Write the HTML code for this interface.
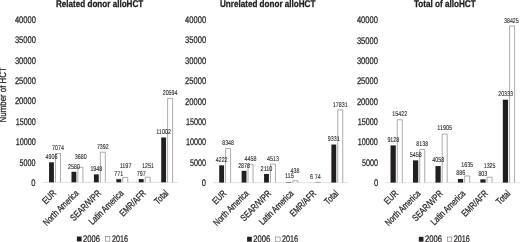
<!DOCTYPE html>
<html lang="en"><head><meta charset="utf-8"><title>alloHCT by region, 2006 vs 2016</title>
<style>html,body{margin:0;padding:0;background:#fff}body{width:520px;height:242px;overflow:hidden}svg{display:block}text{font-family:"Liberation Sans",sans-serif;fill:#231f20;stroke:#231f20;stroke-width:0.25px;text-rendering:geometricPrecision}.t{font-weight:bold;font-size:9.7px;stroke-width:0.3px}.ax{font-size:9.6px}.dl{font-size:7.0px;stroke-width:0.1px}.cat{font-size:9.4px}</style></head><body>
<svg width="520" height="242" viewBox="0 0 520 242">
<rect width="520" height="242" fill="#fff"/>
<text class="ax" transform="translate(5.9,122.4) rotate(-90)" textLength="55.2" lengthAdjust="spacingAndGlyphs">Number of HCT</text>
<g transform="translate(0,0.00)">
<text class="t" x="56.00" y="7.30" textLength="87.20" lengthAdjust="spacingAndGlyphs">Related donor alloHCT</text>
<text transform="rotate(0.03 31.20 185.90)" class="ax" x="31.20" y="185.90" textLength="4.20" lengthAdjust="spacingAndGlyphs">0</text>
<text transform="rotate(0.03 19.42 165.52)" class="ax" x="19.42" y="165.52" textLength="15.98" lengthAdjust="spacingAndGlyphs">5000</text>
<text transform="rotate(0.03 15.72 145.14)" class="ax" x="15.72" y="145.14" textLength="20.18" lengthAdjust="spacingAndGlyphs">10000</text>
<text transform="rotate(0.03 15.72 124.76)" class="ax" x="15.72" y="124.76" textLength="20.18" lengthAdjust="spacingAndGlyphs">15000</text>
<text transform="rotate(0.03 14.92 104.38)" class="ax" x="14.92" y="104.38" textLength="20.98" lengthAdjust="spacingAndGlyphs">20000</text>
<text transform="rotate(0.03 14.92 84.00)" class="ax" x="14.92" y="84.00" textLength="20.98" lengthAdjust="spacingAndGlyphs">25000</text>
<text transform="rotate(0.03 14.92 63.62)" class="ax" x="14.92" y="63.62" textLength="20.98" lengthAdjust="spacingAndGlyphs">30000</text>
<text transform="rotate(0.03 14.92 43.24)" class="ax" x="14.92" y="43.24" textLength="20.98" lengthAdjust="spacingAndGlyphs">35000</text>
<text transform="rotate(0.03 14.92 22.86)" class="ax" x="14.92" y="22.86" textLength="20.98" lengthAdjust="spacingAndGlyphs">40000</text>
<line x1="43.30" y1="182.40" x2="177.90" y2="182.40" stroke="#d9d9d9" stroke-width="0.8"/>
<rect x="49.06" y="162.30" width="4.85" height="20.00" fill="#231f20"/>
<path d="M55.47 182.30V153.47H60.47V182.30" fill="#fff" stroke="#4a4647" stroke-width="0.45"/>
<rect x="71.49" y="171.78" width="4.85" height="10.52" fill="#231f20"/>
<path d="M77.89 182.30V167.30H82.89V182.30" fill="#fff" stroke="#4a4647" stroke-width="0.45"/>
<rect x="93.92" y="174.36" width="4.85" height="7.94" fill="#231f20"/>
<path d="M100.33 182.30V152.17H105.33V182.30" fill="#fff" stroke="#4a4647" stroke-width="0.45"/>
<rect x="116.35" y="179.16" width="4.85" height="3.14" fill="#231f20"/>
<path d="M122.75 182.30V177.42H127.75V182.30" fill="#fff" stroke="#4a4647" stroke-width="0.45"/>
<rect x="138.79" y="179.05" width="4.85" height="3.25" fill="#231f20"/>
<path d="M145.19 182.30V177.20H150.19V182.30" fill="#fff" stroke="#4a4647" stroke-width="0.45"/>
<rect x="161.22" y="137.46" width="4.85" height="44.84" fill="#231f20"/>
<path d="M167.61 182.30V98.36H172.61V182.30" fill="#fff" stroke="#4a4647" stroke-width="0.45"/>
<text class="dl" x="45.56" y="159.10" textLength="11.86" lengthAdjust="spacingAndGlyphs">4906</text>
<text class="dl" x="52.04" y="150.27" textLength="11.86" lengthAdjust="spacingAndGlyphs">7074</text>
<text class="dl" x="67.99" y="168.58" textLength="11.86" lengthAdjust="spacingAndGlyphs">2580</text>
<text class="dl" x="74.77" y="158.80" textLength="11.86" lengthAdjust="spacingAndGlyphs">3680</text>
<text class="dl" x="90.42" y="170.66" textLength="11.86" lengthAdjust="spacingAndGlyphs">1948</text>
<text class="dl" x="96.90" y="148.97" textLength="11.86" lengthAdjust="spacingAndGlyphs">7392</text>
<text class="dl" x="114.33" y="175.96" textLength="8.89" lengthAdjust="spacingAndGlyphs">771</text>
<text class="dl" x="119.63" y="167.92" textLength="11.86" lengthAdjust="spacingAndGlyphs">1197</text>
<text class="dl" x="136.76" y="175.85" textLength="8.89" lengthAdjust="spacingAndGlyphs">797</text>
<text class="dl" x="142.06" y="168.00" textLength="11.86" lengthAdjust="spacingAndGlyphs">1251</text>
<text class="dl" x="156.23" y="134.26" textLength="14.82" lengthAdjust="spacingAndGlyphs">11002</text>
<text class="dl" x="162.70" y="95.16" textLength="14.82" lengthAdjust="spacingAndGlyphs">20594</text>
<text class="cat" text-anchor="end" transform="translate(56.81,193.80) rotate(-45)" textLength="15.40" lengthAdjust="spacingAndGlyphs">EUR</text>
<text class="cat" text-anchor="end" transform="translate(79.24,193.80) rotate(-45)" textLength="45.90" lengthAdjust="spacingAndGlyphs">North America</text>
<text class="cat" text-anchor="end" transform="translate(101.67,193.80) rotate(-45)" textLength="39.00" lengthAdjust="spacingAndGlyphs">SEAR/WPR</text>
<text class="cat" text-anchor="end" transform="translate(124.10,193.80) rotate(-45)" textLength="44.60" lengthAdjust="spacingAndGlyphs">Latin America</text>
<text class="cat" text-anchor="end" transform="translate(146.54,193.80) rotate(-45)" textLength="32.90" lengthAdjust="spacingAndGlyphs">EMR/AFR</text>
<text class="cat" text-anchor="end" transform="translate(168.97,193.80) rotate(-45)" textLength="15.70" lengthAdjust="spacingAndGlyphs">Total</text>
<rect x="76.90" y="236.5" width="4.7" height="4.9" fill="#231f20"/>
<text class="ax" x="83.10" y="241.95" textLength="16.9" lengthAdjust="spacingAndGlyphs">2006</text>
<rect x="105.50" y="236.75" width="4.4" height="4.4" fill="#fff" stroke="#4a4647" stroke-width="0.45"/>
<text class="ax" x="111.90" y="241.95" textLength="16.0" lengthAdjust="spacingAndGlyphs">2016</text>
</g>
<g transform="translate(0,0.25)">
<text class="t" x="220.00" y="6.80" textLength="95.40" lengthAdjust="spacingAndGlyphs">Unrelated donor alloHCT</text>
<text transform="rotate(0.03 201.80 185.90)" class="ax" x="201.80" y="185.90" textLength="4.20" lengthAdjust="spacingAndGlyphs">0</text>
<text transform="rotate(0.03 190.02 165.52)" class="ax" x="190.02" y="165.52" textLength="15.98" lengthAdjust="spacingAndGlyphs">5000</text>
<text transform="rotate(0.03 185.92 145.14)" class="ax" x="185.92" y="145.14" textLength="20.18" lengthAdjust="spacingAndGlyphs">10000</text>
<text transform="rotate(0.03 185.92 124.76)" class="ax" x="185.92" y="124.76" textLength="20.18" lengthAdjust="spacingAndGlyphs">15000</text>
<text transform="rotate(0.03 185.12 104.38)" class="ax" x="185.12" y="104.38" textLength="20.98" lengthAdjust="spacingAndGlyphs">20000</text>
<text transform="rotate(0.03 185.12 84.00)" class="ax" x="185.12" y="84.00" textLength="20.98" lengthAdjust="spacingAndGlyphs">25000</text>
<text transform="rotate(0.03 185.12 63.62)" class="ax" x="185.12" y="63.62" textLength="20.98" lengthAdjust="spacingAndGlyphs">30000</text>
<text transform="rotate(0.03 185.12 43.24)" class="ax" x="185.12" y="43.24" textLength="20.98" lengthAdjust="spacingAndGlyphs">35000</text>
<text transform="rotate(0.03 185.12 22.86)" class="ax" x="185.12" y="22.86" textLength="20.98" lengthAdjust="spacingAndGlyphs">40000</text>
<line x1="213.45" y1="182.40" x2="348.10" y2="182.40" stroke="#d9d9d9" stroke-width="0.8"/>
<rect x="219.22" y="165.09" width="4.85" height="17.21" fill="#231f20"/>
<path d="M225.61 182.30V148.27H230.61V182.30" fill="#fff" stroke="#4a4647" stroke-width="0.45"/>
<rect x="241.64" y="170.57" width="4.85" height="11.73" fill="#231f20"/>
<path d="M248.04 182.30V164.13H253.04V182.30" fill="#fff" stroke="#4a4647" stroke-width="0.45"/>
<rect x="264.07" y="173.70" width="4.85" height="8.60" fill="#231f20"/>
<path d="M270.47 182.30V163.91H275.47V182.30" fill="#fff" stroke="#4a4647" stroke-width="0.45"/>
<rect x="286.50" y="181.83" width="4.85" height="0.47" fill="#231f20"/>
<path d="M292.90 182.30V180.51H297.90V182.30" fill="#fff" stroke="#4a4647" stroke-width="0.45"/>
<rect x="308.94" y="182.28" width="4.85" height="0.02" fill="#231f20"/>
<path d="M315.33 182.30V182.00H320.33V182.30" fill="#fff" stroke="#4a4647" stroke-width="0.45"/>
<rect x="331.37" y="144.27" width="4.85" height="38.03" fill="#231f20"/>
<path d="M337.76 182.30V109.62H342.76V182.30" fill="#fff" stroke="#4a4647" stroke-width="0.45"/>
<text class="dl" x="215.71" y="161.89" textLength="11.86" lengthAdjust="spacingAndGlyphs">4222</text>
<text class="dl" x="222.19" y="145.07" textLength="11.86" lengthAdjust="spacingAndGlyphs">8348</text>
<text class="dl" x="238.14" y="167.37" textLength="11.86" lengthAdjust="spacingAndGlyphs">2878</text>
<text class="dl" x="244.62" y="160.93" textLength="11.86" lengthAdjust="spacingAndGlyphs">4458</text>
<text class="dl" x="260.57" y="170.50" textLength="11.86" lengthAdjust="spacingAndGlyphs">2110</text>
<text class="dl" x="267.05" y="160.71" textLength="11.86" lengthAdjust="spacingAndGlyphs">4513</text>
<text class="dl" x="284.88" y="178.13" textLength="8.89" lengthAdjust="spacingAndGlyphs">115</text>
<text class="dl" x="290.56" y="173.11" textLength="8.89" lengthAdjust="spacingAndGlyphs">438</text>
<text class="dl" x="309.88" y="179.08" textLength="2.96" lengthAdjust="spacingAndGlyphs">6</text>
<text class="dl" x="314.87" y="178.80" textLength="5.93" lengthAdjust="spacingAndGlyphs">74</text>
<text class="dl" x="327.86" y="141.07" textLength="11.86" lengthAdjust="spacingAndGlyphs">9331</text>
<text class="dl" x="332.85" y="106.42" textLength="14.82" lengthAdjust="spacingAndGlyphs">17831</text>
<text class="cat" text-anchor="end" transform="translate(226.97,193.80) rotate(-45)" textLength="15.40" lengthAdjust="spacingAndGlyphs">EUR</text>
<text class="cat" text-anchor="end" transform="translate(249.39,193.80) rotate(-45)" textLength="45.90" lengthAdjust="spacingAndGlyphs">North America</text>
<text class="cat" text-anchor="end" transform="translate(271.82,193.80) rotate(-45)" textLength="39.00" lengthAdjust="spacingAndGlyphs">SEAR/WPR</text>
<text class="cat" text-anchor="end" transform="translate(294.25,193.80) rotate(-45)" textLength="44.60" lengthAdjust="spacingAndGlyphs">Latin America</text>
<text class="cat" text-anchor="end" transform="translate(316.69,193.80) rotate(-45)" textLength="32.90" lengthAdjust="spacingAndGlyphs">EMR/AFR</text>
<text class="cat" text-anchor="end" transform="translate(339.12,193.80) rotate(-45)" textLength="15.70" lengthAdjust="spacingAndGlyphs">Total</text>
<rect x="247.10" y="236.5" width="4.7" height="4.9" fill="#231f20"/>
<text class="ax" x="253.30" y="241.95" textLength="16.9" lengthAdjust="spacingAndGlyphs">2006</text>
<rect x="275.70" y="236.75" width="4.4" height="4.4" fill="#fff" stroke="#4a4647" stroke-width="0.45"/>
<text class="ax" x="282.10" y="241.95" textLength="16.0" lengthAdjust="spacingAndGlyphs">2016</text>
</g>
<g transform="translate(0,0.30)">
<text class="t" x="413.90" y="6.30" textLength="61.80" lengthAdjust="spacingAndGlyphs">Total of alloHCT</text>
<text transform="rotate(0.03 373.90 185.90)" class="ax" x="373.90" y="185.90" textLength="4.20" lengthAdjust="spacingAndGlyphs">0</text>
<text transform="rotate(0.03 362.12 165.52)" class="ax" x="362.12" y="165.52" textLength="15.98" lengthAdjust="spacingAndGlyphs">5000</text>
<text transform="rotate(0.03 357.72 145.14)" class="ax" x="357.72" y="145.14" textLength="20.18" lengthAdjust="spacingAndGlyphs">10000</text>
<text transform="rotate(0.03 357.72 124.76)" class="ax" x="357.72" y="124.76" textLength="20.18" lengthAdjust="spacingAndGlyphs">15000</text>
<text transform="rotate(0.03 356.92 104.38)" class="ax" x="356.92" y="104.38" textLength="20.98" lengthAdjust="spacingAndGlyphs">20000</text>
<text transform="rotate(0.03 356.92 84.00)" class="ax" x="356.92" y="84.00" textLength="20.98" lengthAdjust="spacingAndGlyphs">25000</text>
<text transform="rotate(0.03 356.92 63.62)" class="ax" x="356.92" y="63.62" textLength="20.98" lengthAdjust="spacingAndGlyphs">30000</text>
<text transform="rotate(0.03 356.92 43.24)" class="ax" x="356.92" y="43.24" textLength="20.98" lengthAdjust="spacingAndGlyphs">35000</text>
<text transform="rotate(0.03 356.92 22.86)" class="ax" x="356.92" y="22.86" textLength="20.98" lengthAdjust="spacingAndGlyphs">40000</text>
<line x1="385.10" y1="182.40" x2="520.00" y2="182.40" stroke="#d9d9d9" stroke-width="0.8"/>
<rect x="390.53" y="145.09" width="5.25" height="37.21" fill="#231f20"/>
<path d="M397.28 182.30V119.44H402.28V182.30" fill="#fff" stroke="#4a4647" stroke-width="0.45"/>
<rect x="412.99" y="160.05" width="5.25" height="22.25" fill="#231f20"/>
<path d="M419.74 182.30V149.13H424.74V182.30" fill="#fff" stroke="#4a4647" stroke-width="0.45"/>
<rect x="435.45" y="165.76" width="5.25" height="16.54" fill="#231f20"/>
<path d="M442.20 182.30V133.78H447.20V182.30" fill="#fff" stroke="#4a4647" stroke-width="0.45"/>
<rect x="457.91" y="178.69" width="5.25" height="3.61" fill="#231f20"/>
<path d="M464.66 182.30V175.64H469.66V182.30" fill="#fff" stroke="#4a4647" stroke-width="0.45"/>
<rect x="480.37" y="179.03" width="5.25" height="3.27" fill="#231f20"/>
<path d="M487.12 182.30V176.90H492.12V182.30" fill="#fff" stroke="#4a4647" stroke-width="0.45"/>
<rect x="502.83" y="99.42" width="5.25" height="82.88" fill="#231f20"/>
<path d="M509.58 182.30V25.68H514.58V182.30" fill="#fff" stroke="#4a4647" stroke-width="0.45"/>
<text class="dl" x="387.38" y="141.39" textLength="11.86" lengthAdjust="spacingAndGlyphs">9128</text>
<text class="dl" x="392.37" y="115.74" textLength="14.82" lengthAdjust="spacingAndGlyphs">15422</text>
<text class="dl" x="409.84" y="156.35" textLength="11.86" lengthAdjust="spacingAndGlyphs">5458</text>
<text class="dl" x="416.31" y="145.43" textLength="11.86" lengthAdjust="spacingAndGlyphs">8138</text>
<text class="dl" x="432.30" y="162.06" textLength="11.86" lengthAdjust="spacingAndGlyphs">4058</text>
<text class="dl" x="437.29" y="130.08" textLength="14.82" lengthAdjust="spacingAndGlyphs">11905</text>
<text class="dl" x="456.24" y="174.99" textLength="8.89" lengthAdjust="spacingAndGlyphs">886</text>
<text class="dl" x="461.23" y="167.04" textLength="11.86" lengthAdjust="spacingAndGlyphs">1635</text>
<text class="dl" x="478.40" y="175.33" textLength="8.89" lengthAdjust="spacingAndGlyphs">803</text>
<text class="dl" x="483.69" y="167.70" textLength="11.86" lengthAdjust="spacingAndGlyphs">1325</text>
<text class="dl" x="498.19" y="95.72" textLength="14.82" lengthAdjust="spacingAndGlyphs">20333</text>
<text class="dl" x="503.97" y="22.28" textLength="14.82" lengthAdjust="spacingAndGlyphs">38425</text>
<text class="cat" text-anchor="end" transform="translate(398.63,193.80) rotate(-45)" textLength="15.40" lengthAdjust="spacingAndGlyphs">EUR</text>
<text class="cat" text-anchor="end" transform="translate(421.09,193.80) rotate(-45)" textLength="45.90" lengthAdjust="spacingAndGlyphs">North America</text>
<text class="cat" text-anchor="end" transform="translate(443.55,193.80) rotate(-45)" textLength="39.00" lengthAdjust="spacingAndGlyphs">SEAR/WPR</text>
<text class="cat" text-anchor="end" transform="translate(466.01,193.80) rotate(-45)" textLength="44.60" lengthAdjust="spacingAndGlyphs">Latin America</text>
<text class="cat" text-anchor="end" transform="translate(488.47,193.80) rotate(-45)" textLength="32.90" lengthAdjust="spacingAndGlyphs">EMR/AFR</text>
<text class="cat" text-anchor="end" transform="translate(510.93,193.80) rotate(-45)" textLength="15.70" lengthAdjust="spacingAndGlyphs">Total</text>
<rect x="418.80" y="236.5" width="4.7" height="4.9" fill="#231f20"/>
<text class="ax" x="425.00" y="241.95" textLength="16.9" lengthAdjust="spacingAndGlyphs">2006</text>
<rect x="447.40" y="236.75" width="4.4" height="4.4" fill="#fff" stroke="#4a4647" stroke-width="0.45"/>
<text class="ax" x="453.80" y="241.95" textLength="16.0" lengthAdjust="spacingAndGlyphs">2016</text>
</g>
</svg></body></html>
